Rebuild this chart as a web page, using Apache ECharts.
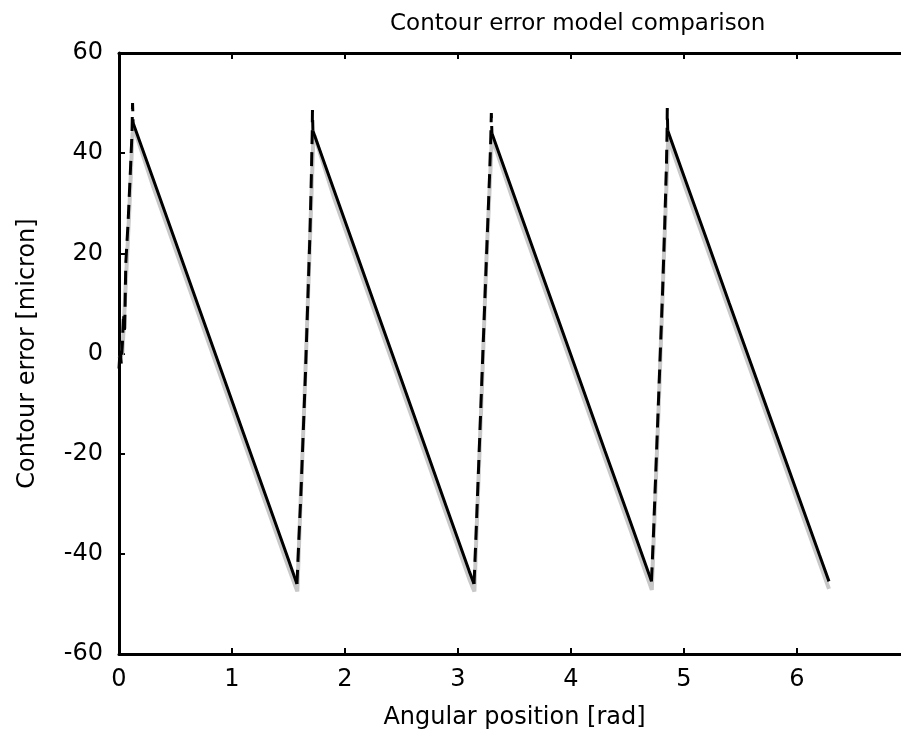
<html>
  <head>
    <meta charset="utf-8">
    <script src="https://cdn.jsdelivr.net/npm/echarts@6/dist/echarts.min.js"></script>
  </head>
  <body style="margin:0;background:#fff">
    <div id="main" style="width:901px;height:729px;"></div>
    <script>
      // measured contour error, decaying parts of each cycle (black solid)
      var blackDecay1 = [[0.125,46],[0.3,35],[0.5,22.3],[0.7,9.6],[0.9,-3.1],[1.1,-15.8],[1.3,-28.5],[1.5,-41.2],[1.575,-46]];
      var blackDecay2 = [[1.716,44.5],[1.9,32.8],[2.1,20.1],[2.3,7.4],[2.5,-5.3],[2.7,-18],[2.9,-30.8],[3.1,-43.5],[3.142,-46]];
      var blackDecay3 = [[3.30,44],[3.5,31.3],[3.7,18.6],[3.9,6],[4.1,-6.7],[4.3,-19.4],[4.5,-32],[4.7,-44.7],[4.712,-45.5]];
      var blackDecay4 = [[4.856,44.5],[5.0,35.4],[5.2,22.8],[5.4,10.1],[5.6,-2.5],[5.8,-15.1],[6.0,-27.7],[6.2,-40.3],[6.283,-45.5]];
      // measured, rising edges (black dashed)
      var blackRise1 = [[0.0,-3],[0.01,1],[0.02,-2],[0.03,2],[0.04,8],[0.05,4],[0.06,18],[0.08,26],[0.10,36],[0.115,44],[0.12,50],[0.125,46]];
      var blackRise2 = [[1.575,-46],[1.59,-38],[1.61,-28],[1.63,-16],[1.65,-4],[1.67,10],[1.69,24],[1.70,33],[1.71,44],[1.712,48.6],[1.716,44.5]];
      var blackRise3 = [[3.142,-46],[3.16,-36],[3.18,-24],[3.20,-12],[3.22,0],[3.24,12],[3.26,24],[3.28,36],[3.29,43],[3.295,48],[3.30,44]];
      var blackRise4 = [[4.712,-45.5],[4.73,-36],[4.75,-24],[4.77,-12],[4.79,0],[4.81,12],[4.83,26],[4.845,38],[4.85,44],[4.852,49],[4.856,44.5]];
      // model (light gray)
      var grayModel = [[0.0,-1],[0.03,0],[0.06,14],[0.09,28],[0.12,44],[0.14,44.5],[0.3,33.5],[0.5,20.8],[0.7,8.1],[0.9,-4.6],[1.1,-17.3],[1.3,-30],[1.5,-42.7],[1.578,-47.5],
                       [1.60,-34],[1.64,-10],[1.68,16],[1.72,43],[1.73,43.5],[1.9,31.3],[2.1,18.6],[2.3,5.9],[2.5,-6.8],[2.7,-19.5],[2.9,-32.3],[3.1,-45],[3.145,-47.5],
                       [3.17,-32],[3.21,-8],[3.25,18],[3.30,43],[3.31,42.5],[3.5,29.8],[3.7,17.1],[3.9,4.5],[4.1,-8.2],[4.3,-20.9],[4.5,-33.5],[4.7,-46.2],[4.715,-47.2],
                       [4.74,-32],[4.78,-8],[4.82,18],[4.86,43],[4.87,43],[5.0,33.9],[5.2,21.3],[5.4,8.6],[5.6,-4],[5.8,-16.6],[6.0,-29.2],[6.2,-41.8],[6.283,-47]];
      var xTicks = [0, 1, 2, 3, 4, 5, 6];

      function joinSegs(segs) {
        var out = [];
        segs.forEach(function (s, i) {
          if (i > 0) out.push([null, null]);
          out = out.concat(s);
        });
        return out;
      }

      var tickFont = { fontFamily: 'DejaVu Sans', fontSize: 24, color: '#000' };
      var nameFont = { fontFamily: 'DejaVu Sans', fontSize: 24, color: '#000' };
      var myChart = echarts.init(document.getElementById('main'));
      var option = {
        animation: false,
        backgroundColor: '#fff',
        title: {
          text: 'Contour error model comparison',
          left: 385, top: 8,
          textStyle: { fontFamily: 'DejaVu Sans', fontWeight: 'normal', fontSize: 23, color: '#000' }
        },
        grid: { left: 119, top: 53, bottom: 75, right: -9, containLabel: false, outerBoundsMode: 'none' },
        xAxis: [{
          type: 'value', min: 0, max: 7, interval: 1,
          axisLine: { onZero: false, lineStyle: { color: '#000', width: 3 } },
          axisTick: { inside: true, length: 6, lineStyle: { color: '#000', width: 2 } },
          axisLabel: Object.assign({ margin: 14, formatter: function (v) { return xTicks.indexOf(v) >= 0 ? String(v) : ''; } }, tickFont),
          splitLine: { show: false },
          name: 'Angular position [rad]', nameLocation: 'middle', nameGap: 52,
          nameTextStyle: Object.assign({}, nameFont)
        }, {
          type: 'value', position: 'top', min: 0, max: 7, interval: 1,
          axisLine: { onZero: false, lineStyle: { color: '#000', width: 3 } },
          axisTick: { inside: true, length: 6, lineStyle: { color: '#000', width: 2 } },
          axisLabel: { show: false },
          splitLine: { show: false }
        }],
        yAxis: {
          type: 'value', min: -60, max: 60, interval: 20,
          axisLine: { show: true, onZero: false, lineStyle: { color: '#000', width: 3 } },
          axisTick: { show: true, inside: true, length: 6, lineStyle: { color: '#000', width: 2 } },
          axisLabel: Object.assign({ margin: 16 }, tickFont),
          splitLine: { show: false },
          name: 'Contour error [micron]', nameLocation: 'middle', nameGap: 79,
          nameTextStyle: Object.assign({}, nameFont)
        },
        series: [{
          type: 'line', data: grayModel, showSymbol: false, z: 2,
          lineStyle: { color: '#c8c8c8', width: 4 }
        }, {
          type: 'line', data: joinSegs([blackDecay1, blackDecay2, blackDecay3, blackDecay4]),
          showSymbol: false, connectNulls: false, z: 3,
          lineStyle: { color: '#000', width: 3 }
        }, {
          type: 'line', data: joinSegs([blackRise1, blackRise2, blackRise3, blackRise4]),
          showSymbol: false, connectNulls: false, z: 3,
          lineStyle: { color: '#000', width: 3, type: [14, 8] }
        }]
      };
      myChart.setOption(option);
    </script>
  </body>
</html>
